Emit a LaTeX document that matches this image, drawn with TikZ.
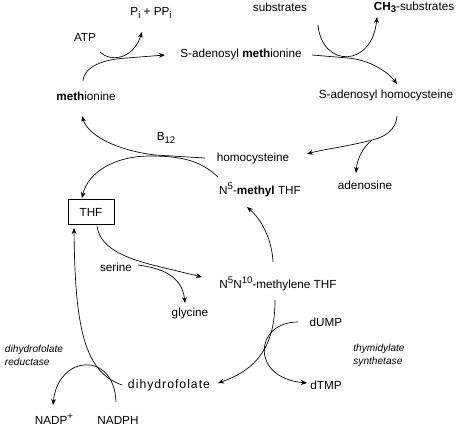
\documentclass[tikz,border=0pt]{standalone}
\usepackage{fontspec}
\setmainfont{Liberation Sans}
\usetikzlibrary{arrows.meta}
\tikzset{
  mol/.style={inner sep=0pt, font=\fontsize{8.8}{10}\selectfont},
  enzyme/.style={inner sep=0pt, align=left, font=\fontsize{7.6}{9.75}\selectfont\itshape},
  thfbox/.style={mol, draw, line width=0.6pt, minimum width=34.5pt, minimum height=18.75pt},
  flow/.style={-{Stealth[length=4.5pt,width=3.6pt]}, line width=0.5pt},
}
\newcommand{\lowidx}[1]{\raisebox{-0.35ex}{\fontsize{7.2}{8}\selectfont #1}}
\newcommand{\upidx}[1]{\raisebox{0.75ex}{\fontsize{7.2}{8}\selectfont #1}}

\begin{document}
\begin{tikzpicture}[x=0.75pt, y=-0.75pt]
  \useasboundingbox (0,0) rectangle (466,439);

  % molecules
  \node[mol] (pi) at (151,13) {P\lowidx{i} + PP\lowidx{i}};
  \node[mol] (atp) at (85,37) {ATP};
  \node[mol] (sam) at (241,54) {S-adenosyl \textbf{meth}ionine};
  \node[mol] (sub) at (280,7) {substrates};
  \node[mol] (ch3) at (414,7) {\textbf{CH\lowidx{3}}-substrates};
  \node[mol] (met) at (86,96) {\textbf{meth}ionine};
  \node[mol] (sah) at (386,95) {S-adenosyl homocysteine};
  \node[mol] (b12) at (166,138) {B\lowidx{12}};
  \node[mol] (hcy) at (253,158) {homocysteine};
  \node[mol] (mthf) at (260,190) {N\upidx{5}-\textbf{methyl} THF};
  \node[mol] (ado) at (365,185) {adenosine};
  \node[thfbox] (thf) at (91,212) {THF};
  \node[mol] (ser) at (116,267) {serine};
  \node[mol] (mtf) at (278,284) {N\upidx{5}N\upidx{10}-methylene THF};
  \node[mol] (gly) at (190,313) {glycine};
  \node[mol] (dump) at (326,322) {dUMP};
  \node[enzyme] (ts) at (379,355) {thymidylate\\synthetase};
  \node[mol, font=\fontsize{9.2}{11}\selectfont\addfontfeature{LetterSpace=8}] (dhf) at (169,385) {dihydrofolate};
  \node[mol] (dtmp) at (326,385) {dTMP};
  \node[enzyme] (dhfr) at (34,355) {dihydrofolate\\reductase};
  \node[mol] (nadp) at (54,419) {NADP\upidx{+}};
  \node[mol] (nadph) at (118,420) {NADPH};

  % curve ends and junctions
  \coordinate (met-out) at (83,81);
  \coordinate (j-atp) at (127,58);
  \coordinate (sam-in) at (165,55);
  \coordinate (atp-out) at (100,52);
  \coordinate (pi-in) at (142,32);
  \coordinate (sam-out) at (312,55);
  \coordinate (j-sub) at (348,58);
  \coordinate (sah-in) at (397,84);
  \coordinate (sub-out) at (318,25);
  \coordinate (ch3-in) at (377,17);
  \coordinate (sah-out) at (397,116);
  \coordinate (j-ado) at (372,140);
  \coordinate (hcy-in) at (307,154);
  \coordinate (ado-in) at (356,173);
  \coordinate (hcy-out) at (205,158);
  \coordinate (j-b12) at (155,155);
  \coordinate (met-in) at (82,116);
  \coordinate (mthf-out) at (218,177);
  \coordinate (thf-in) at (82,198);
  \coordinate (thf-out) at (97,226);
  \coordinate (j-ser) at (165,268);
  \coordinate (mtf-in) at (202,277);
  \coordinate (ser-out) at (138,265);
  \coordinate (gly-in) at (185,303);
  \coordinate (mtf-up) at (273,262);
  \coordinate (mthf-in) at (247,207);
  \coordinate (mtf-down) at (275,300);
  \coordinate (dhf-in) at (218,383);
  \coordinate (dump-out) at (298,322);
  \coordinate (dtmp-in) at (307,383);
  \coordinate (dhf-out) at (122,385);
  \coordinate (thf-in2) at (74,228);
  \coordinate (nadph-out) at (116,402);
  \coordinate (nadp-in) at (53,405);

  % methionine cycle
  \draw[flow] (met-out) .. controls (84,66) and (105,59) .. (j-atp) -- (sam-in);
  \draw[flow] (atp-out) .. controls (110,62) and (133,60) .. (pi-in);
  \draw[flow] (sam-out) -- (j-sub) .. controls (370,60) and (388,72) .. (sah-in);
  \draw[flow] (sub-out) .. controls (322,68) and (372,68) .. (ch3-in);
  \draw[flow] (sah-out) .. controls (396,130) and (385,137) .. (j-ado)
    .. controls (350,146) and (320,150) .. (hcy-in);
  \draw[flow] (j-ado) .. controls (362,148) and (357,160) .. (ado-in);
  \draw[flow] (hcy-out) -- (j-b12) .. controls (115,150) and (88,135) .. (met-in);
  \draw[flow] (mthf-out) .. controls (200,160) and (180,156) .. (150,156)
    .. controls (115,156) and (88,172) .. (thf-in);

  % folate cycle
  \draw[flow] (thf-out) .. controls (100,250) and (130,260) .. (j-ser) -- (mtf-in);
  \draw[flow] (ser-out) .. controls (160,268) and (182,275) .. (gly-in);
  \draw[flow] (mtf-up) .. controls (272,240) and (262,220) .. (mthf-in);
  \draw[flow] (mtf-down) .. controls (275,340) and (262,368) .. (dhf-in);
  \draw[flow] (dump-out) .. controls (254,322) and (250,378) .. (dtmp-in);
  \draw[flow] (dhf-out) .. controls (85,372) and (75,330) .. (thf-in2);
  \draw[flow] (nadph-out) .. controls (114,350) and (58,355) .. (nadp-in);
\end{tikzpicture}
\end{document}
